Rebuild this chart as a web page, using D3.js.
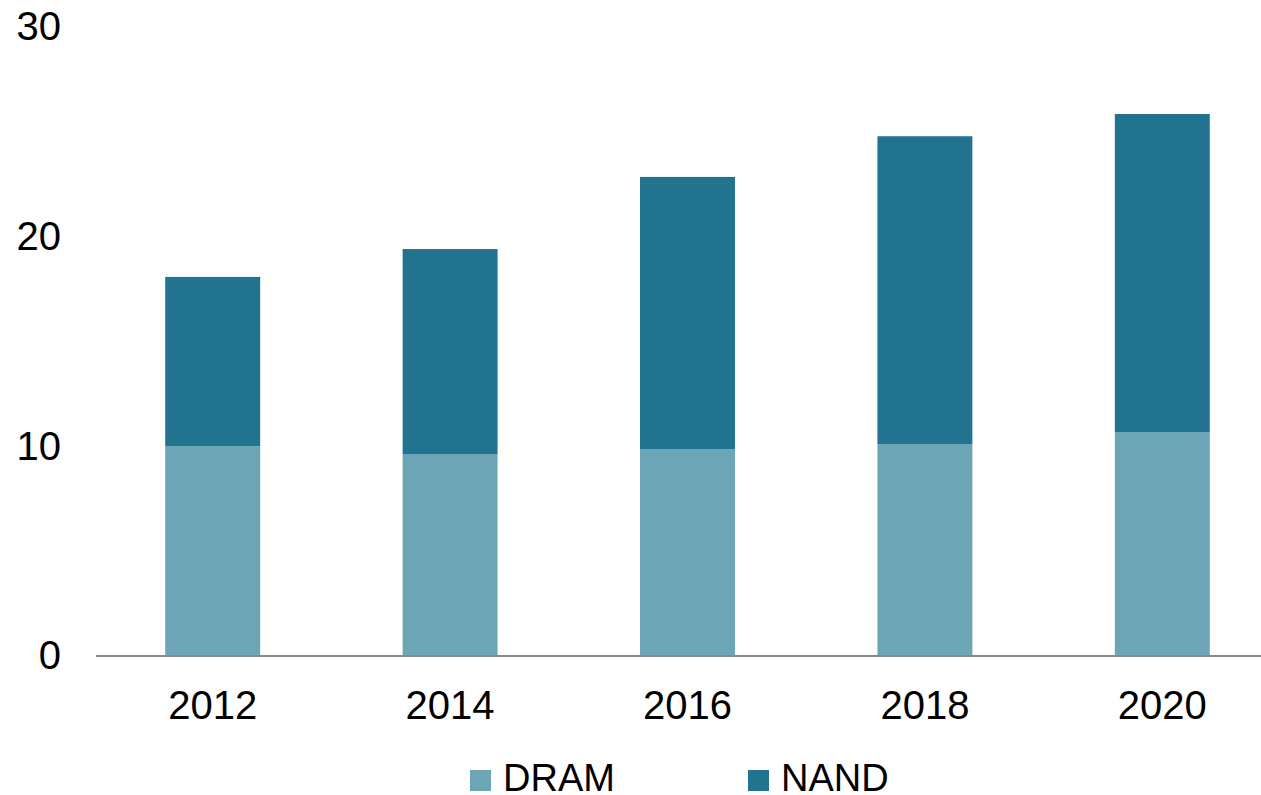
<!DOCTYPE html>
<html>
<head>
<meta charset="utf-8">
<script src="https://cdn.jsdelivr.net/npm/d3@7"></script>
<style>
  body { margin: 0; background: #fff; }
  text { font-family: "Liberation Sans", Arial, sans-serif; fill: #000; }
</style>
</head>
<body>
<script>
'use strict';

const years = ['2012', '2014', '2016', '2018', '2020'];
const dram = [10.0, 9.63, 9.87, 10.11, 10.68];
const nand = [8.08, 9.78, 12.98, 14.68, 15.17];
const yTicks = [0, 10, 20, 30];
const seriesNames = ['DRAM', 'NAND'];
const colors = ['#6ca5b6', '#21738f'];

const width = 1261, height = 795;

const svg = d3.select('body').append('svg')
  .attr('width', width)
  .attr('height', height);

// stacked table built from the arrays
const table = years.map((y, i) => ({ year: y, DRAM: dram[i], NAND: nand[i] }));
const stacked = d3.stack().keys(seriesNames)(table);

const x = d3.scaleBand()
  .domain(years)
  .range([94, 1281])
  .paddingInner(0.6)
  .paddingOuter(0.3);

const y = d3.scaleLinear()
  .domain([0, 30])
  .range([656, 27]);

// bars
svg.selectAll('.series')
  .data(stacked)
  .enter()
  .append('g')
    .attr('fill', (d, i) => colors[i])
  .selectAll('rect')
  .data(d => d)
  .enter()
  .append('rect')
    .attr('x', d => x(d.data.year))
    .attr('width', x.bandwidth())
    .attr('y', d => y(d[1]))
    .attr('height', d => y(d[0]) - y(d[1]));

// y axis labels (no line, no ticks)
const yAxis = d3.axisLeft(y).tickValues(yTicks).tickSize(0).tickPadding(0);
const gy = svg.append('g')
  .attr('transform', 'translate(61, 0)')
  .call(yAxis);
gy.select('.domain').remove();
gy.selectAll('text')
  .style('font-size', '40px')
  .attr('font-family', null)
  .attr('fill', '#000');

// x axis
const xAxis = d3.axisBottom(x).tickSize(0).tickPadding(0);
const gx = svg.append('g')
  .attr('transform', 'translate(0, 656)')
  .call(xAxis);
gx.select('.domain').remove();
gx.selectAll('text')
  .attr('dy', null)
  .attr('y', 63)
  .style('font-size', '40px')
  .attr('fill', '#000');

svg.append('line')
  .attr('x1', 96)
  .attr('x2', width)
  .attr('y1', y(0))
  .attr('y2', y(0))
  .attr('stroke', '#888888')
  .attr('stroke-width', 2);

// legend
const legendX = [470, 748];
const legend = svg.selectAll('.legend')
  .data(seriesNames)
  .enter()
  .append('g')
    .attr('transform', (d, i) => 'translate(' + legendX[i] + ', 770)');
legend.append('rect')
  .attr('width', 21)
  .attr('height', 21)
  .attr('fill', (d, i) => colors[i]);
legend.append('text')
  .attr('x', 33)
  .attr('y', 21)
  .style('font-size', '38px')
  .text(d => d);
</script>
</body>
</html>
